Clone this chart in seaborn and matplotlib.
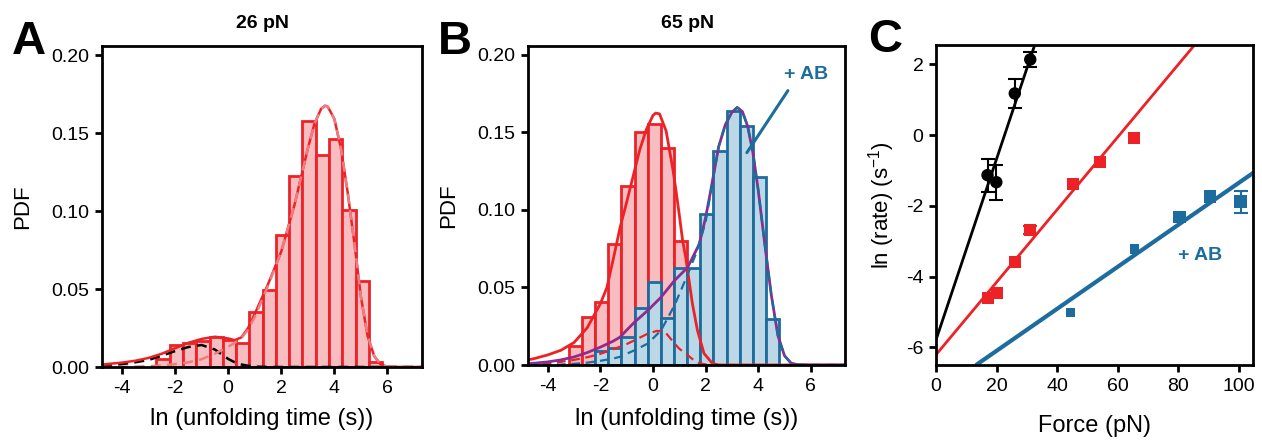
import matplotlib
matplotlib.use("Agg")
import matplotlib.pyplot as plt
import seaborn as sns

# ---------------- data ----------------
BIN_W = 0.5

# A: 26 pN histogram (bin left edge, PDF)
a_bin_left = [-2.7, -2.2, -1.7, -1.2, -0.7, -0.2, 0.3, 0.8, 1.3, 1.8, 2.3, 2.8, 3.3, 3.8, 4.3, 4.8, 5.3]
a_pdf = [0.0052, 0.0138, 0.0156, 0.0167, 0.0195, 0.0175, 0.0155, 0.0354, 0.0493, 0.0846,
         0.1225, 0.158, 0.136, 0.146, 0.1004, 0.0552, 0.0032]

# A: fitted curves
a_fit_x = [-4.75, -4.5, -4.0, -3.5, -3.0, -2.5, -2.0, -1.5, -1.0, -0.5, 0.0, 0.25, 0.5, 0.75, 1.0,
           1.5, 2.0, 2.25, 2.5, 2.75, 3.0, 3.25, 3.5, 3.65, 3.75, 4.0, 4.25, 4.5, 4.75, 5.0,
           5.25, 5.5, 5.75, 6.0, 6.5, 7.3]
a_total = [0.0015, 0.002, 0.0028, 0.004, 0.0058, 0.0085, 0.012, 0.0155, 0.018, 0.0194, 0.0183, 0.0172,
           0.019, 0.025, 0.034, 0.053, 0.074, 0.089, 0.104, 0.122, 0.14, 0.156, 0.1655, 0.1675, 0.167,
           0.159, 0.14, 0.112, 0.08, 0.045, 0.02, 0.007, 0.0015, 0.0002, 0.0, 0.0]
a_main = [0.0, 0.0, 0.0001, 0.0002, 0.0005, 0.001, 0.0018, 0.003, 0.005, 0.0085, 0.013, 0.0155,
          0.0185, 0.024, 0.032, 0.052, 0.074, 0.089, 0.104, 0.122, 0.14, 0.156, 0.1655, 0.1675, 0.167,
          0.159, 0.14, 0.112, 0.08, 0.045, 0.02, 0.007, 0.0015, 0.0002, 0.0, 0.0]
a_minor = [0.0008, 0.001, 0.0018, 0.003, 0.0045, 0.0072, 0.0102, 0.0128, 0.0141, 0.0112, 0.0052, 0.003,
           0.0016, 0.0008, 0.0003, 0.0, 0.0, 0.0, 0.0, 0.0, 0.0, 0.0, 0.0, 0.0, 0.0, 0.0, 0.0, 0.0,
           0.0, 0.0, 0.0, 0.0, 0.0, 0.0, 0.0, 0.0]

# B: 65 pN histograms
b_red_left = [-3.2, -2.7, -2.2, -1.7, -1.2, -0.7, -0.2, 0.3, 0.8]
b_red_pdf = [0.0124, 0.031, 0.0406, 0.078, 0.1158, 0.150, 0.1553, 0.140, 0.080]
b_blue_left = [-2.2, -1.7, -1.2, -0.7, -0.2, 0.3, 0.8, 1.3, 1.8, 2.3, 2.8, 3.3, 3.8, 4.3]
b_blue_pdf = [0.0088, 0.0108, 0.018, 0.0368, 0.0534, 0.030, 0.0625, 0.0625, 0.0977, 0.1378,
              0.1639, 0.1543, 0.1213, 0.0299]

# B: fitted curves
b_red_x = [-4.75, -4.5, -4.0, -3.5, -3.0, -2.5, -2.0, -1.75, -1.5, -1.25, -1.0, -0.75, -0.5, -0.25,
           0.0, 0.1, 0.25, 0.5, 0.75, 0.88, 1.0, 1.13, 1.25, 1.5, 1.69, 1.94, 2.26, 2.5, 7.3]
b_red_fit = [0.0033, 0.0042, 0.0065, 0.0095, 0.0145, 0.024, 0.0395, 0.050, 0.069, 0.0887, 0.105,
             0.122, 0.139, 0.152, 0.161, 0.1625, 0.162, 0.151, 0.127, 0.112, 0.097, 0.080, 0.069,
             0.0395, 0.0224, 0.0075, 0.001, 0.0, 0.0]
b_rdash_x = [-4.75, -4.0, -3.5, -3.0, -2.5, -2.0, -1.5, -1.25, -1.0, -0.69, -0.19, 0.15, 0.35, 0.5,
             0.82, 1.0, 1.32, 1.5, 1.76, 2.0, 2.26, 2.5, 7.3]
b_rdash = [0.0005, 0.0012, 0.002, 0.0033, 0.005, 0.0072, 0.0102, 0.0118, 0.0135, 0.016, 0.0203,
           0.022, 0.0218, 0.0205, 0.0139, 0.0105, 0.0064, 0.0038, 0.0011, 0.0004, 0.0, 0.0, 0.0]
b_bdash_x = [-4.75, -3.5, -3.0, -2.5, -2.0, -1.5, -1.25, -0.69, -0.19, 0.31, 0.82, 1.25, 1.63, 2.0,
             2.25, 2.5, 2.75, 3.0, 3.2, 3.4, 3.6, 3.8, 4.0, 4.25, 4.5, 4.75, 5.0, 5.25, 5.5, 6.0, 7.3]
b_bdash = [0.0, 0.0003, 0.0008, 0.0015, 0.0027, 0.0042, 0.0053, 0.0096, 0.0139, 0.0224, 0.0385,
           0.0556, 0.0716, 0.092, 0.117, 0.141, 0.155, 0.163, 0.1662, 0.1635, 0.154, 0.137, 0.113,
           0.078, 0.045, 0.019, 0.006, 0.0012, 0.0002, 0.0, 0.0]
b_pur_x = [-4.75, -4.0, -3.5, -3.0, -2.5, -2.0, -1.5, -1.25, -1.0, -0.69, -0.19, 0.31, 0.82, 1.32,
           1.76, 2.0, 2.19, 2.5, 2.75, 3.0, 3.2, 3.4, 3.6, 3.8, 4.0, 4.25, 4.5, 4.75, 5.0, 5.25,
           5.5, 6.0, 7.3]
b_pur = [0.0008, 0.002, 0.0033, 0.0052, 0.008, 0.0115, 0.0155, 0.018, 0.0225, 0.0278, 0.0353,
         0.0438, 0.0545, 0.063, 0.078, 0.095, 0.112, 0.141, 0.155, 0.163, 0.1662, 0.1635, 0.154,
         0.137, 0.113, 0.078, 0.045, 0.019, 0.006, 0.0012, 0.0002, 0.0, 0.0]

# C: force dependence of ln(rate)
black_force = [17.0, 19.9, 26.0, 31.1]
black_lnk = [-1.13, -1.33, 1.18, 2.14]
black_err = [0.47, 0.49, 0.41, 0.20]
red_force = [17.0, 20.2, 26.0, 31.1, 45.2, 54.0, 65.4]
red_lnk = [-4.61, -4.47, -3.60, -2.68, -1.38, -0.77, -0.07]
red_err = [0.0, 0.0, 0.0, 0.12, 0.0, 0.0, 0.0]
blue_force = [44.3, 65.4, 80.4, 90.4, 100.5]
blue_lnk = [-5.02, -3.22, -2.31, -1.74, -1.88]
blue_err = [0.0, 0.0, 0.0, 0.0, 0.31]
blue_kind = ["small", "small", "big", "big", "big"]
# linear fits (end points)
black_line_f = [0.0, 33.0]
black_line_y = [-5.79, 2.66]
red_line_f = [0.0, 86.0]
red_line_y = [-6.21, 2.62]
blue_line_f = [13.4, 104.6]
blue_line_y = [-6.49, -1.07]

# ---------------- style ----------------
RED = "#ED2227"
RED_FILL = "#F8BDC0"
RED_LIGHT = "#F07C80"
BLUE = "#1D6C9E"
BLUE_FILL = "#BCD8E7"
PURPLE = "#8E2B8E"

sns.set_style("ticks")
plt.rcParams["font.family"] = ["Liberation Sans", "DejaVu Sans"]
plt.rcParams["mathtext.fontset"] = "custom"
plt.rcParams["mathtext.rm"] = "Liberation Sans"
plt.rcParams["mathtext.it"] = "Liberation Sans:italic"
plt.rcParams["axes.unicode_minus"] = False
plt.rcParams["axes.linewidth"] = 2.0
plt.rcParams["axes.edgecolor"] = "black"
plt.rcParams["text.color"] = "black"
plt.rcParams["xtick.color"] = "black"
plt.rcParams["ytick.color"] = "black"
plt.rcParams["axes.labelcolor"] = "black"

fig = plt.figure(figsize=(12.62, 4.40), dpi=100)
W, H = 1262.0, 440.0


def add_axes(l, t, r, b):
    return fig.add_axes([l / W, 1 - b / H, (r - l) / W, (b - t) / H])


axA = add_axes(102, 46, 422, 367)
axB = add_axes(528, 46, 845, 365)
axC = add_axes(936, 45, 1253, 365)


def hist(ax, left, pdf, face, edge):
    edges = left + [left[-1] + BIN_W]
    centers = [v + BIN_W / 2 for v in left]
    sns.histplot(x=centers, weights=pdf, bins=edges, ax=ax, stat="count",
                 facecolor=face, edgecolor=edge, linewidth=2.0, alpha=1)


def curve(ax, x, y, color, lw, ls="-"):
    sns.lineplot(x=x, y=y, ax=ax, color=color, lw=lw, linestyle=ls, estimator=None, sort=False)


def errbars(ax, x, y, err, color):
    # only the points that carry an error bar in the figure
    keep = [i for i, e in enumerate(err) if e > 0]
    ax.errorbar([x[i] for i in keep], [y[i] for i in keep], yerr=[err[i] for i in keep],
                fmt="none", ecolor=color, elinewidth=1.5, capsize=5, capthick=1.5)


DASH = (0, (4, 2.5))

# ---- A ----
hist(axA, a_bin_left, a_pdf, RED_FILL, RED)
curve(axA, a_fit_x, a_minor, "black", 1.8, DASH)
curve(axA, a_fit_x, a_total, RED, 1.8)
curve(axA, a_fit_x, a_main, RED_LIGHT, 1.8, DASH)

# ---- B ----
hist(axB, b_red_left, b_red_pdf, RED_FILL, RED)
hist(axB, b_blue_left, b_blue_pdf, BLUE_FILL, BLUE)
curve(axB, b_red_x, b_red_fit, RED, 2.0)
curve(axB, b_rdash_x, b_rdash, RED, 1.6, DASH)
curve(axB, b_pur_x, b_pur, PURPLE, 2.0)
curve(axB, b_bdash_x, b_bdash, BLUE, 1.6, DASH)
axB.plot([5.13, 3.57], [0.177, 0.137], color=BLUE, lw=2.2)
axB.text(5.82, 0.1872, "+ AB", color=BLUE, fontsize=14, fontweight="bold", ha="center", va="center")

for ax, title in [(axA, "26 pN"), (axB, "65 pN")]:
    ax.set_xlim(-4.75, 7.3)
    ax.set_ylim(0, 0.2058)
    ax.set_xticks([-4, -2, 0, 2, 4, 6])
    ax.set_yticks([0.0, 0.05, 0.10, 0.15, 0.20])
    ax.set_yticklabels(["0.00", "0.05", "0.10", "0.15", "0.20"])
    ax.set_xlabel("ln (unfolding time (s))", fontsize=17)
    ax.set_ylabel("PDF", fontsize=16)
axA.xaxis.set_label_coords(0.5, -0.128)
axB.xaxis.set_label_coords(0.5, -0.135)
axA.yaxis.set_label_coords(-0.216, 0.5)
axB.yaxis.set_label_coords(-0.216, 0.5)

# ---- C ----
curve(axC, black_line_f, black_line_y, "black", 2.0)
curve(axC, red_line_f, red_line_y, RED, 2.0)
curve(axC, blue_line_f, blue_line_y, BLUE, 3.0)
errbars(axC, black_force, black_lnk, black_err, "black")
errbars(axC, red_force, red_lnk, red_err, RED)
errbars(axC, blue_force, blue_lnk, blue_err, BLUE)
sns.scatterplot(x=black_force, y=black_lnk, ax=axC, color="black", marker="o", s=80,
                edgecolor="none", zorder=5)
sns.scatterplot(x=red_force, y=red_lnk, ax=axC, color=RED, marker="s", s=75,
                edgecolor="none", zorder=5)
sns.scatterplot(x=blue_force, y=blue_lnk, ax=axC, color=BLUE, marker="s", size=blue_kind,
                sizes={"small": 45, "big": 80}, edgecolor="none", zorder=5, legend=False)
axC.text(87.0, -3.39, "+ AB", color=BLUE, fontsize=14, fontweight="bold", ha="center", va="center")
axC.set_xlim(0, 104.6)
axC.set_ylim(-6.5, 2.55)
axC.set_xticks([0, 20, 40, 60, 80, 100])
axC.set_yticks([-6, -4, -2, 0, 2])
axC.set_xlabel("Force (pN)", fontsize=17)
axC.set_ylabel("ln (rate) (s$^{-1}$)", fontsize=16)
axC.xaxis.set_label_coords(0.5, -0.155)
axC.yaxis.set_label_coords(-0.123, 0.5)

for ax in (axA, axB, axC):
    for sp in ax.spines.values():
        sp.set_visible(True)
        sp.set_linewidth(2.0)
    ax.tick_params(direction="out", length=5, width=2, labelsize=14, pad=4,
                   top=False, right=False)

# panel letters and titles
fig.text(12 / W, 1 - 54 / H, "A", fontsize=34, fontweight="bold", va="baseline")
fig.text(438 / W, 1 - 54 / H, "B", fontsize=34, fontweight="bold", va="baseline")
fig.text(868 / W, 1 - 52 / H, "C", fontsize=34, fontweight="bold", va="baseline")
fig.text(263 / W, 1 - 28 / H, "26 pN", fontsize=14, fontweight="bold", ha="center", va="baseline")
fig.text(688 / W, 1 - 28 / H, "65 pN", fontsize=14, fontweight="bold", ha="center", va="baseline")

fig.savefig("out.png", dpi=100)
